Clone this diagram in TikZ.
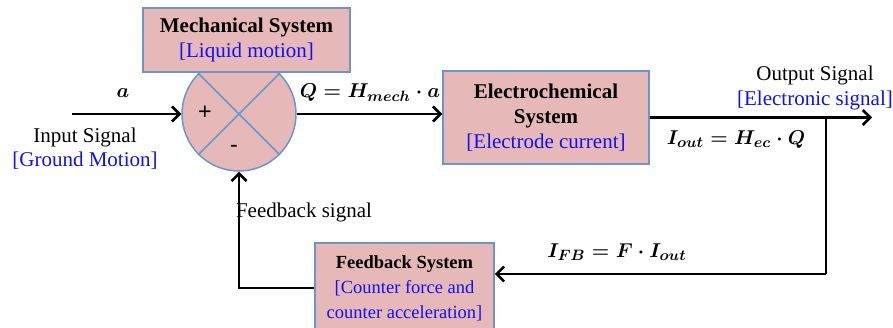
\documentclass[tikz,border=0pt]{standalone}
\usepackage{amsmath}
\usepackage{fontspec}
\setmainfont{Liberation Serif}
\newfontfamily\signfont{Liberation Sans}
\usetikzlibrary{arrows.meta, positioning, calc}
\definecolor{rose}    {HTML}{E6B9B8}
\definecolor{edge}    {HTML}{6A96CC}
\definecolor{note}    {HTML}{1010F0}
\definecolor{ink}     {HTML}{000000}
\tikzset{
  sysbox/.style = {draw=edge, line width=0.9pt, fill=rose,
                   align=center, inner sep=0pt},
  sumnode/.style= {circle, draw=edge, line width=0.9pt, fill=rose,
                   minimum size=68.4pt, inner sep=0pt},
  arr/.style    = {-{Straight Barb[length=4.5pt, width=9pt, line width=1.5pt]},
                   line width=1.7pt, ink},
  wire/.style   = {line width=1.7pt, ink},
  blu/.style    = {text=note},
  eqn/.style    = {font=\fontsize{12.8}{15}\selectfont\boldmath},
}

\begin{document}
\begin{tikzpicture}[x=0.6pt, y=-0.6pt,
  every node/.style={font=\fontsize{12.6}{14.8}\selectfont}]

  \useasboundingbox (0,0) rectangle (893,327);

  % summing junction
  \node[sumnode] (sum) at (239,114) {};
  \draw[edge, line width=0.9pt] (sum.north west) -- (sum.south east)
                                (sum.north east) -- (sum.south west);
  \node[font=\signfont\fontsize{14}{16}\selectfont] (plus)  at (205,113) {+};
  \node[font=\signfont\fontsize{14}{16}\selectfont] (minus) at (234,149) {-};

  % blocks
  \node[sysbox, minimum width=124.2pt, minimum height=38.4pt] (mech) at (246.5,40)
    {\textbf{Mechanical System}\\{\color{note}[Liquid motion]}};

  \node[sysbox, minimum width=123.6pt, minimum height=55.8pt] (ec) at (546,117.5)
    {\textbf{Electrochemical}\\\textbf{System}\\{\color{note}[Electrode current]}};

  \node[sysbox, minimum width=107.4pt, minimum height=54pt,
        font=\fontsize{11.1}{15}\selectfont] (fb) at (404.5,288)
    {\textbf{Feedback System}\\{\color{note}[Counter force and}\\{\color{note}counter acceleration]}};

  % signal ends
  \coordinate (in)  at (72,114);
  \coordinate (out) at (872,117.5);
  \coordinate (tap) at (826,117.5);
  \coordinate (fbin) at (826,274);

  \draw[arr]  (in) -- (sum.west);
  \draw[arr]  (sum.east) -- (sum.east -| ec.west);
  \draw[arr]  (ec.east) -- (out);
  \draw[wire] (tap) -- (fbin);
  \draw[arr]  (fbin) -- (fbin -| fb.east);
  \draw[arr]  (fb.west) -| (sum.south);

  % labels
  \node[eqn] (la)  at (123,93)  {$a$};
  \node      (lin) at (85,137)  {Input Signal};
  \node[blu] (lgm) at (85,161)  {[Ground Motion]};
  \node[eqn] (lq)  at (370,93)  {$Q = H_{mech}\cdot a$};
  \node      (lout) at (815,75) {Output Signal};
  \node[blu] (les) at (815,100) {[Electronic signal]};
  \node[eqn] (lio) at (736,140) {$I_{out} = H_{ec}\cdot Q$};
  \node      (lfs) at (304,212) {Feedback signal};
  \node[eqn] (lfb) at (617,252) {$I_{FB} = F\cdot I_{out}$};

\end{tikzpicture}
\end{document}
